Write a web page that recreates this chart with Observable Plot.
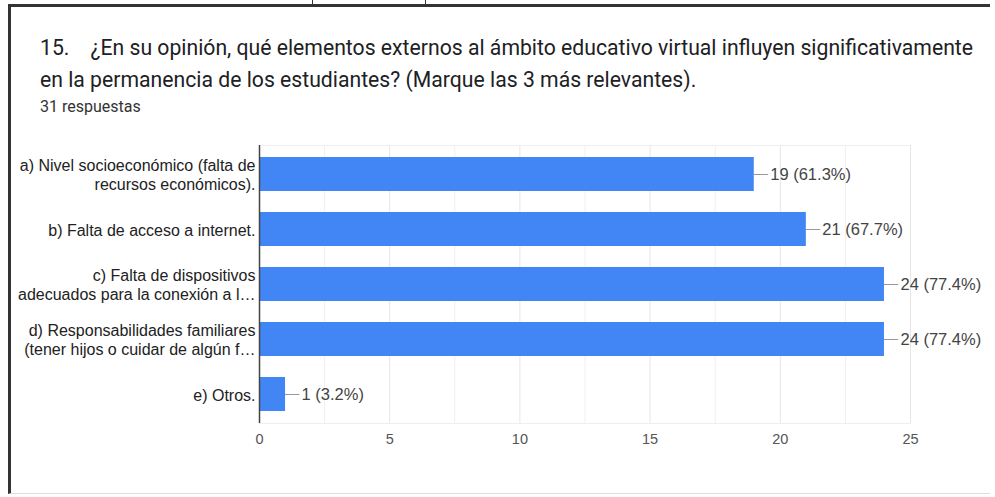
<!DOCTYPE html>
<html>
<head>
<meta charset="utf-8">
<script src="https://cdn.jsdelivr.net/npm/d3@7"></script>
<script src="https://cdn.jsdelivr.net/npm/@observablehq/plot@0.6"></script>
<style>
  html, body { margin: 0; padding: 0; background: #fff; }
  #wrap { position: relative; width: 995px; height: 497px; overflow: hidden; background: #fff; }
  #frame { position: absolute; left: 8px; top: 4px; width: 982px; height: 490px;
           border-top: 3px solid #333; border-left: 3px solid #333; border-bottom: 1px solid #ddd; box-sizing: border-box; }
  .tick { position: absolute; top: 0; width: 1px; height: 5px; background: #333; }
  #title { position: absolute; left: 40px; top: 32px; font-family: Roboto, "Noto Sans", sans-serif;
           font-size: 21.2px; color: #202124; line-height: 32px; white-space: pre; }
  #sub { position: absolute; left: 40px; top: 97px; font-family: Roboto, "Noto Sans", sans-serif;
         font-size: 16px; color: #333; }
  #chart { position: absolute; left: 0; top: 130px; }
</style>
</head>
<body>
<div id="wrap">
  <div class="tick" style="left:312px"></div>
  <div class="tick" style="left:425px"></div>
  <div id="frame"></div>
  <div id="title">15.    ¿En su opinión, qué elementos externos al ámbito educativo virtual influyen significativamente
en la permanencia de los estudiantes? (Marque las 3 más relevantes).</div>
  <div id="sub">31 respuestas</div>
  <div id="chart"></div>
</div>
<script>
const categories = [
  "a) Nivel socioeconómico (falta de\nrecursos económicos).",
  "b) Falta de acceso a internet.",
  "c) Falta de dispositivos\nadecuados para la conexión a l…",
  "d) Responsabilidades familiares\n(tener hijos o cuidar de algún f…",
  "e) Otros."
];
const counts = [19, 21, 24, 24, 1];
const percents = ["61.3%", "67.7%", "77.4%", "77.4%", "3.2%"];
const xTicks = [0, 5, 10, 15, 20, 25];
const xGrid = [0, 2.5, 5, 7.5, 10, 12.5, 15, 17.5, 20, 22.5, 25];

const data = categories.map((c, i) => ({cat: c, n: counts[i], label: `${counts[i]} (${percents[i]})`}));

const chart = Plot.plot({
  width: 995,
  height: 367,
  marginLeft: 259,
  marginRight: 85,
  marginTop: 15,
  marginBottom: 74,
  style: {fontFamily: "Arial, 'Liberation Sans', sans-serif", background: "transparent"},
  x: {domain: [0, 25], ticks: xTicks, tickSize: 0, tickPadding: 12, label: null},
  y: {domain: categories, paddingInner: 0.39, paddingOuter: 0.2, axis: null},
  marks: [
    Plot.frame({stroke: "#eee"}),
    Plot.ruleX(xGrid, {stroke: d => d % 5 === 0 ? "#e6e6e6" : "#f0f0f0"}),
    Plot.axisX({ticks: xTicks, tickSize: 0, tickPadding: 10, fontSize: 14.5, fill: "#555", label: null}),
    Plot.barX(data, {x: "n", y: "cat", fill: "#4285f4"}),
    Plot.ruleY(data, {y: "cat", x1: "n", x2: d => d.n + 0.55, stroke: "#999", strokeWidth: 1}),
    Plot.text(data, {y: "cat", x: "n", text: "label", dx: 16, textAnchor: "start", fontSize: 16.5, fill: "#444"}),
    Plot.text(data, {y: "cat", x: 0, text: "cat", dx: -4, textAnchor: "end", fontSize: 16, fill: "#222", lineHeight: 1.17}),
    Plot.ruleX([0], {stroke: "#444", strokeWidth: 1.5})
  ]
});
document.getElementById("chart").appendChild(chart);
</script>
</body>
</html>
